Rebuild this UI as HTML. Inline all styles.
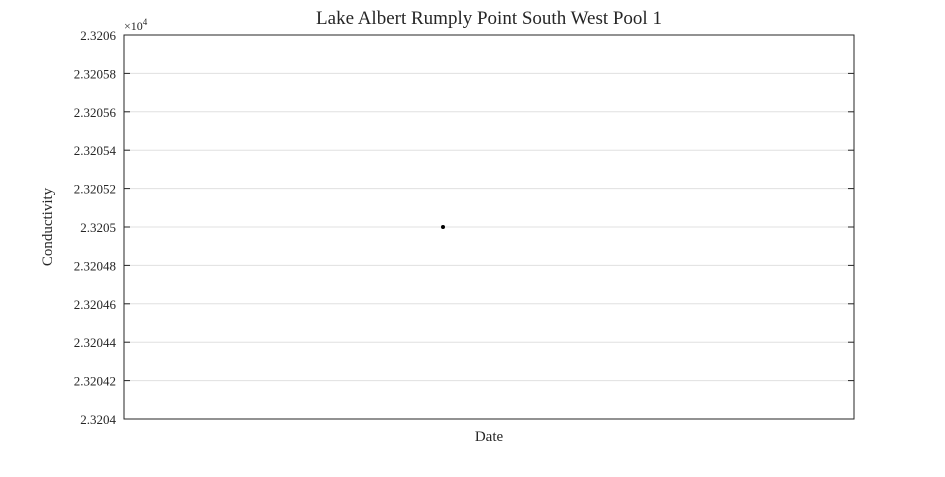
<!DOCTYPE html>
<html><head><meta charset="utf-8"><style>
body{margin:0;background:#fff;}
svg text{font-family:"Liberation Serif",serif;fill:#262626;}
</style></head><body>
<svg width="945" height="472" xmlns="http://www.w3.org/2000/svg">
<rect width="945" height="472" fill="#fff"/>
<g id="grid"></g>
<rect x="124" y="35" width="730" height="384" fill="none" stroke="#262626" stroke-width="1"/>
<g id="ticks"></g>
<g id="marks"></g>
<text x="489" y="24" font-size="19" text-anchor="middle">Lake Albert Rumply Point South West Pool 1</text>
<text x="489" y="441" font-size="15" text-anchor="middle">Date</text>
<text transform="translate(52,227) rotate(-90)" font-size="15" text-anchor="middle">Conductivity</text>
<text x="124" y="30" font-size="12">×10<tspan font-size="9" dy="-5">4</tspan></text>
</svg>
<script>
const yTickLabels=["2.3204","2.32042","2.32044","2.32046","2.32048","2.3205","2.32052","2.32054","2.32056","2.32058","2.3206"];
const yTicks=[2.3204,2.32042,2.32044,2.32046,2.32048,2.3205,2.32052,2.32054,2.32056,2.32058,2.3206];
const xValues=[0.437];
const yValues=[2.3205];
const yMin=2.3204,yMax=2.3206;
const L=124,R=854,T=35,B=419;
function ys(v){return B-(v-yMin)/(yMax-yMin)*(B-T);}
function xs(v){return L+v*(R-L);}
const ns="http://www.w3.org/2000/svg";
const grid=document.getElementById('grid'),ticks=document.getElementById('ticks'),marks=document.getElementById('marks');
yTicks.forEach((v,i)=>{
  const y=ys(v);
  if(i>0&&i<yTicks.length-1){
    const g=document.createElementNS(ns,'line');
    g.setAttribute('x1',L);g.setAttribute('x2',R);g.setAttribute('y1',y);g.setAttribute('y2',y);
    g.setAttribute('stroke','#e0e0e0');
    
    
    grid.appendChild(g);
  }
  [[L,L+6],[R-6,R]].forEach(p=>{
    const t=document.createElementNS(ns,'line');
    t.setAttribute('x1',p[0]);t.setAttribute('x2',p[1]);t.setAttribute('y1',y);t.setAttribute('y2',y);
    t.setAttribute('stroke','#262626');
    
    
    ticks.appendChild(t);
  });
  const tx=document.createElementNS(ns,'text');
  tx.setAttribute('x',116);tx.setAttribute('y',y+5);tx.setAttribute('font-size','13');tx.setAttribute('text-anchor','end');
  tx.textContent=yTickLabels[i];
  
  
  ticks.appendChild(tx);
});
xValues.forEach((x,i)=>{
  const c=document.createElementNS(ns,'circle');
  c.setAttribute('cx',xs(x));c.setAttribute('cy',ys(yValues[i]));c.setAttribute('r',2);c.setAttribute('fill','#000');
  
  
  marks.appendChild(c);
});
</script>
</body></html>
